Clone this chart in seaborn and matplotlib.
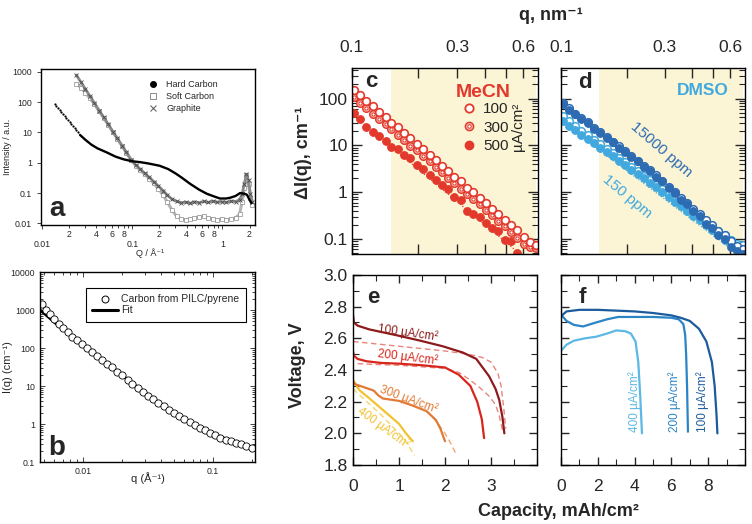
import numpy as np
import matplotlib
matplotlib.use("Agg")
import matplotlib.pyplot as plt
import matplotlib.ticker as mticker
from matplotlib.lines import Line2D
import seaborn as sns

# ---- a: scattering of carbons ----
hc_dot_q = [0.0138, 0.0144, 0.0150, 0.0156, 0.0163, 0.0170, 0.0177, 0.0185,
            0.0193, 0.0201, 0.0210, 0.0219, 0.0229, 0.0239, 0.0250]
hc_dot_i = [90, 77, 66, 57, 48, 41, 35, 30, 25.5, 22, 18.7, 16, 13.8, 11.8, 10.0]
hc_q = [0.0263, 0.030, 0.035, 0.041, 0.052, 0.065, 0.080, 0.100, 0.122, 0.150,
        0.200, 0.250, 0.300, 0.350, 0.440, 0.550, 0.670, 0.800, 0.940, 1.10,
        1.22, 1.40, 1.57, 1.75, 1.87, 2.00, 2.10]
hc_i = [8.3, 5.8, 4.0, 3.0, 2.2, 1.6, 1.3, 1.12, 1.05, 0.95, 0.80, 0.62, 0.45,
        0.33, 0.20, 0.13, 0.095, 0.078, 0.066, 0.066, 0.070, 0.080, 0.100,
        0.095, 0.088, 0.060, 0.046]
gs_q = [0.024, 0.027, 0.030, 0.034, 0.038, 0.043, 0.048, 0.054, 0.061, 0.068,
        0.077, 0.086, 0.097, 0.109, 0.122, 0.137, 0.154, 0.173, 0.195, 0.220,
        0.245, 0.275, 0.310, 0.350, 0.390, 0.440, 0.490, 0.550, 0.620, 0.700,
        0.780, 0.880, 0.990, 1.10, 1.25, 1.40, 1.55, 1.65, 1.75, 1.85, 1.95,
        2.05, 2.15]
graphite_i = [778, 452, 279, 157, 94, 53, 32, 18.7, 10.6, 6.5, 3.65, 2.2, 1.27,
              0.85, 0.62, 0.45, 0.33, 0.24, 0.17, 0.12, 0.085, 0.063, 0.053,
              0.048, 0.05, 0.046, 0.051, 0.048, 0.053, 0.049, 0.054, 0.05,
              0.052, 0.049, 0.054, 0.052, 0.06, 0.09, 0.2, 0.42, 0.26, 0.09, 0.05]
soft_i = [414, 300, 205, 135, 85, 50, 31, 18, 10.3, 6.3, 3.6, 2.15, 1.22, 0.8,
          0.57, 0.42, 0.30, 0.21, 0.14, 0.085, 0.05, 0.028, 0.017, 0.014, 0.013,
          0.014, 0.015, 0.016, 0.017, 0.015, 0.014, 0.013, 0.014, 0.013, 0.014,
          0.015, 0.02, 0.05, 0.15, 0.38, 0.2, 0.07, 0.04]

# ---- b: PILC/pyrene carbon + fit ----
b_q = [0.0048, 0.0052, 0.0056, 0.0060, 0.0065, 0.0070, 0.0076, 0.0083, 0.0090,
       0.0098, 0.0107, 0.0117, 0.0128, 0.0140, 0.0153, 0.0167, 0.0183, 0.0200,
       0.0220, 0.0240, 0.0263, 0.0288, 0.0316, 0.0347, 0.0380, 0.0417, 0.0457,
       0.0500, 0.0550, 0.0600, 0.0660, 0.0720, 0.0790, 0.0870, 0.0950, 0.104,
       0.114, 0.125, 0.137, 0.150, 0.165, 0.180, 0.198]
b_i = [1450, 1030, 770, 580, 430, 340, 262, 200, 160, 128, 102, 80, 62, 49, 39,
       31, 24, 19, 14.5, 11.5, 9.0, 7.1, 5.6, 4.5, 3.6, 2.95, 2.4, 2.0, 1.65,
       1.35, 1.12, 0.95, 0.8, 0.68, 0.58, 0.50, 0.44, 0.39, 0.35, 0.32, 0.29,
       0.27, 0.24]
b_fit_q = [0.00468, 0.0063, 0.0100, 0.0158, 0.0251, 0.0398, 0.0631, 0.100, 0.158, 0.209]
b_fit_i = [1000, 417, 126, 36, 10.5, 3.3, 1.2, 0.55, 0.30, 0.21]

# ---- c, d: delta I(q) ----
q_cd = [0.102, 0.109, 0.116, 0.124, 0.133, 0.142, 0.151, 0.162, 0.173, 0.184,
        0.197, 0.210, 0.225, 0.240, 0.256, 0.274, 0.292, 0.312, 0.333, 0.356,
        0.380, 0.406, 0.433, 0.463, 0.494, 0.528, 0.564, 0.602, 0.643, 0.687]
c_100 = [151, 118, 88, 69, 51, 41, 30, 24.5, 18, 14.5, 10.5, 8.4, 6.2, 4.9, 3.6,
         2.9, 2.15, 1.7, 1.25, 1.0, 0.74, 0.59, 0.43, 0.35, 0.25, 0.20, 0.155,
         0.11, 0.085, 0.074]
c_300 = [108, 82, 64, 48, 37.5, 28, 22, 16.5, 13.2, 9.8, 7.8, 5.8, 4.6, 3.4, 2.7,
         2.0, 1.57, 1.18, 0.93, 0.70, 0.55, 0.41, 0.32, 0.24, 0.19, 0.14, 0.105,
         0.078, 0.068, 0.064]
c_500 = [49, 36.6, 24.2, 19.8, 16.0, 12.7, 9.1, 8.3, 6.2, 5.3, 3.8, 3.2, 2.3,
         1.85, 1.40, 1.18, 0.79, 0.69, 0.40, 0.34, 0.29, 0.22, 0.17, 0.146,
         0.097, 0.09, 0.051]
c_fit_q = [0.1, 0.6]
c_fit_i = [47, 0.042]
d_15000 = [76, 58, 47, 36, 30, 22.5, 18.8, 14.2, 11.8, 9.0, 7.4, 5.6, 4.6, 3.5,
           2.9, 2.15, 1.7, 1.22, 0.96, 0.68, 0.55, 0.39, 0.31, 0.21, 0.175, 0.12,
           0.1, 0.068, 0.055, 0.048]
d_15000_open = [80, 62, 48, 39, 31, 24, 19.5, 15, 12, 9.6, 7.6, 6.0, 4.7, 3.7,
                2.95, 2.3, 1.75, 1.32, 1.0, 0.75, 0.58, 0.44, 0.34, 0.26, 0.20,
                0.15, 0.12, 0.09, 0.07, 0.06]
d_150 = [32.5, 26, 21, 17, 13.7, 11, 8.9, 7.2, 5.8, 4.7, 3.8, 3.05, 2.45, 1.98,
         1.6, 1.28, 1.0, 0.80, 0.63, 0.50, 0.40, 0.31, 0.25, 0.195, 0.155, 0.122,
         0.097, 0.077, 0.06, 0.055]
d_150_open = [42, 33, 26, 20.5, 16.5, 13, 10.5, 8.4, 6.8, 5.4, 4.4, 3.5, 2.8,
              2.25, 1.8, 1.45, 1.15, 0.92, 0.73, 0.58, 0.46, 0.37, 0.30, 0.24,
              0.19, 0.15, 0.12, 0.095, 0.08, 0.075]
d_fit_q = [0.1, 0.66]
d_fit_i = [33, 0.045]

# ---- e: MeCN discharge curves ----
e100_x = [0, 0, 0.02, 0.1, 0.36, 0.94, 1.45, 1.95, 2.39, 2.68, 2.96, 3.1, 3.18, 3.25, 3.29]
e100_v = [3.0, 2.75, 2.70, 2.68, 2.656, 2.62, 2.586, 2.55, 2.51, 2.47, 2.36, 2.28, 2.21, 2.1, 2.0]
e100d_x = [0, 0.5, 1.0, 1.5, 2.0, 2.5, 2.8, 3.0, 3.15, 3.22, 3.28, 3.32]
e100d_v = [2.58, 2.565, 2.55, 2.535, 2.52, 2.5, 2.48, 2.45, 2.38, 2.3, 2.15, 2.03]
e200_x = [0, 0.02, 0.1, 0.3, 0.6, 1.0, 1.5, 2.0, 2.3, 2.55, 2.7, 2.8, 2.85]
e200_v = [2.52, 2.49, 2.47, 2.455, 2.445, 2.44, 2.43, 2.416, 2.37, 2.30, 2.20, 2.09, 1.97]
e200d_x = [0.1, 0.5, 1.0, 1.5, 2.0, 2.3, 2.53, 2.75, 2.96, 3.1, 3.18, 3.25]
e200d_v = [2.44, 2.435, 2.43, 2.42, 2.41, 2.385, 2.34, 2.29, 2.235, 2.18, 2.11, 2.02]
e300_x = [0, 0.05, 0.2, 0.45, 0.55, 0.65, 1.0, 1.3, 1.6, 1.8, 1.9, 2.0]
e300_v = [2.33, 2.31, 2.295, 2.27, 2.24, 2.22, 2.205, 2.175, 2.14, 2.085, 2.03, 1.95]
e300d_x = [1.6, 1.8, 2.0, 2.12, 2.24]
e300d_v = [2.14, 2.08, 2.0, 1.94, 1.87]
e400_x = [0, 0.05, 0.15, 0.36, 0.6, 0.8, 1.0, 1.15, 1.3]
e400_v = [2.34, 2.31, 2.27, 2.22, 2.16, 2.11, 2.06, 2.0, 1.95]
e400d_x = [0, 0.3, 0.6, 0.9, 1.1, 1.34]
e400d_v = [2.28, 2.2, 2.12, 2.03, 1.97, 1.86]

# ---- f: DMSO discharge curves ----
f100_x = [0, 0.3, 1.0, 2.0, 3.0, 4.0, 5.0, 6.0, 6.5, 7.0, 7.5, 7.9, 8.2, 8.35, 8.45, 8.5]
f100_v = [2.74, 2.77, 2.78, 2.78, 2.775, 2.77, 2.76, 2.745, 2.73, 2.71, 2.66, 2.58, 2.45, 2.3, 2.12, 2.0]
f200_x = [0, 0.3, 0.7, 1.2, 1.9, 2.5, 3.1, 4.0, 5.0, 6.0, 6.4, 6.65, 6.75, 6.8, 6.85, 6.9]
f200_v = [2.75, 2.71, 2.685, 2.675, 2.70, 2.72, 2.735, 2.735, 2.735, 2.73, 2.72, 2.69, 2.62, 2.5, 2.3, 2.01]
f400_x = [0, 0, 0.3, 0.7, 1.3, 1.9, 2.5, 3.0, 3.5, 3.8, 4.05, 4.2, 4.3, 4.4]
f400_v = [3.0, 2.52, 2.56, 2.585, 2.6, 2.61, 2.63, 2.65, 2.645, 2.63, 2.58, 2.45, 2.25, 2.0]

RED = "#E2392C"
DARK = "#2D6CB3"
LIGHT = "#42A9DE"
SHADE = "#FCF5D5"

sns.set_style("ticks")
plt.rcParams["font.family"] = ["Liberation Sans", "DejaVu Sans"]
plt.rcParams["axes.linewidth"] = 1.0
plt.rcParams["axes.edgecolor"] = "black"

W, H = 752, 524
fig = plt.figure(figsize=(W / 100, H / 100), dpi=100)


def box(l, r, t, b):
    return [l / W, 1 - b / H, (r - l) / W, (b - t) / H]


def put(x, y, s, **kw):
    fig.text(x / W, 1 - y / H, s, **kw)


def line(ax, x, y, **kw):
    sns.lineplot(x=x, y=y, ax=ax, sort=False, estimator=None, legend=False, **kw)


def marks(ax, x, y, **kw):
    sns.lineplot(x=x, y=y, ax=ax, sort=False, estimator=None, legend=False,
                 ls="none", **kw)


def minor_lab(v, pos):
    d = int(round(v / 10 ** np.floor(np.log10(v) + 1e-9)))
    return str(d) if d in (2, 4, 6, 8) else ""


# panel a
ax = fig.add_axes(box(41, 255, 69, 225))
ax.set_xscale("log")
ax.set_yscale("log")
line(ax, gs_q, soft_i, color="#b5b5b5", lw=2.2)
marks(ax, gs_q, soft_i, marker="s", ms=2.6, mfc="white", mec="#8c8c8c", mew=0.5)
line(ax, gs_q, graphite_i, color="#8a8a8a", lw=2.0)
marks(ax, gs_q, graphite_i, marker="x", ms=2.6, mec="#4a4a4a", mew=0.6)
marks(ax, hc_dot_q, hc_dot_i, marker="o", ms=1.6, mfc="black", mec="black", mew=0)
line(ax, hc_q, hc_i, color="black", lw=1.7)
ax.set_xlim(0.0097, 2.3)
ax.set_ylim(0.0088, 1250)
ax.xaxis.set_major_locator(mticker.FixedLocator([0.01, 0.1, 1]))
ax.xaxis.set_major_formatter(mticker.FixedFormatter(["0.01", "0.1", "1"]))
ax.xaxis.set_minor_locator(mticker.LogLocator(base=10, subs=np.arange(2, 10), numticks=20))
ax.xaxis.set_minor_formatter(mticker.FuncFormatter(minor_lab))
ax.yaxis.set_major_locator(mticker.FixedLocator([0.01, 0.1, 1, 10, 100, 1000]))
ax.yaxis.set_major_formatter(mticker.FixedFormatter(["0.01", "0.1", "1", "10", "100", "1000"]))
ax.yaxis.set_minor_locator(mticker.NullLocator())
ax.tick_params(which="both", direction="out", labelsize=6.3, width=0.6)
ax.tick_params(which="major", length=3)
ax.tick_params(which="minor", length=2)
ax.tick_params(axis="x", which="major", pad=8)
ax.tick_params(axis="x", which="minor", pad=1.5)
ax.set_xlabel("")
ax.set_ylabel("")
hs = [Line2D([], [], ls="none", marker="o", ms=4, mfc="black", mec="black"),
      Line2D([], [], ls="none", marker="s", ms=4, mfc="white", mec="#8c8c8c", mew=0.7),
      Line2D([], [], ls="none", marker="x", ms=4, mec="#666666", mew=0.8)]
ax.legend(hs, ["Hard Carbon", "Soft Carbon", "Graphite"], loc="upper left",
          bbox_to_anchor=(0.5, 0.93), frameon=False, fontsize=6.5, handlelength=1.0,
          handletextpad=1.0, labelspacing=0.35, borderpad=0, borderaxespad=0)
ax.text(0.04, 0.06, "a", transform=ax.transAxes, fontsize=20, fontweight="bold",
        va="baseline")
put(8, 147, "Intensity / a.u.", rotation=90, ha="center", va="center", fontsize=6.5)
put(150, 253, "Q / Å⁻¹", ha="center", va="center", fontsize=6.5)

# panel b
ax = fig.add_axes(box(40, 255, 272, 462))
ax.set_xscale("log")
ax.set_yscale("log")
line(ax, b_fit_q, b_fit_i, color="black", lw=2.0)
marks(ax, b_q, b_i, marker="o", ms=5.2, mfc="white", mec="black", mew=0.6)
ax.set_xlim(0.00467, 0.21)
ax.set_ylim(0.1, 10000)
ax.xaxis.set_major_locator(mticker.FixedLocator([0.01, 0.1]))
ax.xaxis.set_major_formatter(mticker.FixedFormatter(["0.01", "0.1"]))
ax.xaxis.set_minor_locator(mticker.LogLocator(base=10, subs=np.arange(2, 10), numticks=20))
ax.xaxis.set_minor_formatter(mticker.NullFormatter())
ax.yaxis.set_major_locator(mticker.FixedLocator([0.1, 1, 10, 100, 1000, 10000]))
ax.yaxis.set_major_formatter(mticker.FixedFormatter(["0.1", "1", "10", "100", "1000", "10000"]))
ax.yaxis.set_minor_locator(mticker.LogLocator(base=10, subs=np.arange(2, 10), numticks=20))
ax.yaxis.set_minor_formatter(mticker.NullFormatter())
ax.tick_params(which="both", direction="in", top=True, right=True, labelsize=6.3, width=0.6)
ax.tick_params(which="major", length=3.5)
ax.tick_params(which="minor", length=2)
ax.set_xlabel("")
ax.set_ylabel("")
hb = [Line2D([], [], ls="none", marker="o", ms=5, mfc="white", mec="black", mew=0.7),
      Line2D([], [], color="black", lw=2.2)]
ax.legend(hb, ["Carbon from PILC/pyrene", "Fit"], loc="upper left",
          bbox_to_anchor=(0.214, 0.916), frameon=True, fancybox=False,
          edgecolor="black", framealpha=1, fontsize=7.5, handlelength=2.5,
          handletextpad=0.3, labelspacing=0.1, borderpad=0.6, borderaxespad=0)
ax.get_legend().get_frame().set_linewidth(0.8)
ax.text(0.037, 0.037, "b", transform=ax.transAxes, fontsize=20, fontweight="bold",
        va="baseline")
put(8, 367, "I(q) (cm⁻¹)", rotation=90, ha="center", va="center", fontsize=8)
put(148, 478, "q (Å⁻¹)", ha="center", va="center", fontsize=8)

# panels c and d
ax_c = fig.add_axes(box(352, 538, 68, 254))
ax_d = fig.add_axes(box(561, 745, 68, 254))
for ax in (ax_c, ax_d):
    ax.set_xscale("log")
    ax.set_yscale("log")
    ax.axvspan(0.15, 0.685, color=SHADE, lw=0, zorder=0)

line(ax_c, c_fit_q, c_fit_i, color=RED, lw=0.9, ls=(0, (1, 1.5)))
marks(ax_c, q_cd[:len(c_500)], c_500, marker="o", ms=5.5, mfc=RED, mec=RED, mew=0.8)
marks(ax_c, q_cd, c_300, marker="o", ms=5.5, mfc="#F3A79E", mec=RED, mew=1.0)
marks(ax_c, q_cd, c_300, marker="o", ms=2.2, mfc="white", mec=RED, mew=0.6)
marks(ax_c, q_cd, c_100, marker="o", ms=5.5, mfc="white", mec=RED, mew=1.2)

line(ax_d, d_fit_q, d_fit_i, color=LIGHT, lw=0.9, ls=(0, (1, 1.5)))
marks(ax_d, q_cd, d_150_open, marker="o", ms=5.5, mfc="white", mec=LIGHT, mew=1.1)
marks(ax_d, q_cd, d_150, marker="o", ms=5.5, mfc=LIGHT, mec=LIGHT, mew=0.8)
marks(ax_d, q_cd, d_15000_open, marker="o", ms=5.5, mfc="white", mec=DARK, mew=1.1)
marks(ax_d, q_cd, d_15000, marker="o", ms=5.5, mfc=DARK, mec=DARK, mew=0.8)

for ax in (ax_c, ax_d):
    ax.set_xlim(0.1, 0.70)
    ax.set_ylim(0.048, 450)
    ax.xaxis.set_major_locator(mticker.FixedLocator([0.1, 0.2, 0.3, 0.4, 0.5, 0.6]))
    ax.xaxis.set_major_formatter(mticker.FixedFormatter(["0.1", "", "0.3", "", "", "0.6"]))
    ax.xaxis.set_minor_locator(mticker.NullLocator())
    ax.yaxis.set_major_locator(mticker.FixedLocator([0.1, 1, 10, 100]))
    ax.yaxis.set_major_formatter(mticker.FixedFormatter(["0.1", "1", "10", "100"]))
    ax.yaxis.set_minor_locator(mticker.LogLocator(base=10, subs=np.arange(2, 10), numticks=20))
    ax.yaxis.set_minor_formatter(mticker.NullFormatter())
    ax.tick_params(which="both", direction="in", top=True, bottom=True, left=True,
                   right=True, labeltop=True, labelbottom=False, labelsize=12.5)
    ax.tick_params(which="major", length=7, width=1)
    ax.tick_params(which="minor", length=4, width=0.8)
    ax.tick_params(axis="x", pad=9)
    ax.tick_params(axis="y", pad=3)
    ax.set_xlabel("")
    ax.set_ylabel("")
ax_d.tick_params(labelleft=False)

h100 = Line2D([], [], ls="none", marker="o", ms=6, mfc="white", mec=RED, mew=1.3)
h300 = (Line2D([], [], ls="none", marker="o", ms=6, mfc="#F3A79E", mec=RED, mew=1.0),
        Line2D([], [], ls="none", marker="o", ms=2.4, mfc="white", mec=RED, mew=0.6))
h500 = Line2D([], [], ls="none", marker="o", ms=6, mfc=RED, mec=RED)
ax_c.legend([h100, h300, h500], ["100", "300", "500"], loc="upper left",
            bbox_to_anchor=((461 - 352) / 186, (254 - 102) / 186), frameon=False,
            fontsize=11, handlelength=1.0, handletextpad=0.45, labelspacing=0.3,
            borderpad=0, borderaxespad=0)

put(371, 87, "c", fontsize=16, fontweight="bold", ha="center", va="baseline")
put(585, 88, "d", fontsize=16, fontweight="bold", ha="center", va="baseline")
put(483, 97, "MeCN", fontsize=14, fontweight="bold", color=RED, ha="center", va="baseline")
put(518, 127, "µA/cm²", fontsize=11, rotation=90, ha="center", va="center")
put(703, 95, "DMSO", fontsize=12.5, fontweight="bold", color=LIGHT, ha="center", va="baseline")
put(661, 150, "15000 ppm", fontsize=11, rotation=-41, color=DARK, ha="center",
    va="center", rotation_mode="anchor")
put(627, 197, "150 ppm", fontsize=11, rotation=-40, color=LIGHT, ha="center",
    va="center", rotation_mode="anchor")
put(551, 15, "q, nm⁻¹", fontsize=13, fontweight="bold", ha="center", va="center")
put(303, 153, "ΔI(q), cm⁻¹", fontsize=13, fontweight="bold", rotation=90,
    ha="center", va="center")

# panels e and f
ax_e = fig.add_axes(box(353, 537, 275, 465))
ax_f = fig.add_axes(box(561, 745, 275, 465))

line(ax_e, e100d_x, e100d_v, color="#E9857C", lw=1.0, ls=(0, (4, 2.5)))
line(ax_e, e200d_x, e200d_v, color="#E9857C", lw=1.0, ls=(0, (4, 2.5)))
line(ax_e, e300d_x, e300d_v, color="#EFA774", lw=1.0, ls=(0, (4, 2.5)))
line(ax_e, e400d_x, e400d_v, color="#F6D46A", lw=1.0, ls=(0, (4, 2.5)))
line(ax_e, e400_x, e400_v, color="#F2C230", lw=1.6)
line(ax_e, e300_x, e300_v, color="#E27A35", lw=1.6)
line(ax_e, e200_x, e200_v, color="#D9261C", lw=1.6)
line(ax_e, e100_x, e100_v, color="#8E1B1B", lw=1.6)

line(ax_f, f400_x, f400_v, color="#5CB8E4", lw=1.6)
line(ax_f, f200_x, f200_v, color="#2B84C6", lw=1.6)
line(ax_f, f100_x, f100_v, color="#1C5C9C", lw=1.6)

for ax in (ax_e, ax_f):
    ax.set_ylim(1.8, 3.0)
    ax.yaxis.set_major_locator(mticker.MultipleLocator(0.2))
    ax.yaxis.set_minor_locator(mticker.MultipleLocator(0.1))
    ax.yaxis.set_major_formatter(mticker.FormatStrFormatter("%.1f"))
    ax.tick_params(which="both", direction="in", top=True, right=True, labelsize=12.5)
    ax.tick_params(which="major", length=6, width=1)
    ax.tick_params(which="minor", length=4, width=0.8)
    ax.tick_params(axis="x", pad=10)
    ax.tick_params(axis="y", pad=4)
    ax.set_xlabel("")
    ax.set_ylabel("")
ax_e.set_xlim(0, 4)
ax_e.xaxis.set_major_locator(mticker.FixedLocator([0, 1, 2, 3]))
ax_e.xaxis.set_minor_locator(mticker.MultipleLocator(0.5))
ax_f.set_xlim(0, 10)
ax_f.xaxis.set_major_locator(mticker.FixedLocator([0, 2, 4, 6, 8]))
ax_f.xaxis.set_minor_locator(mticker.MultipleLocator(1))
ax_f.tick_params(labelleft=False)

put(373, 303, "e", fontsize=16, fontweight="bold", ha="center", va="baseline")
put(582, 303, "f", fontsize=16, fontweight="bold", ha="center", va="baseline")
put(408, 333, "100 µA/cm²", fontsize=8.5, color="#8E1B1B", rotation=-8,
    ha="center", va="center", rotation_mode="anchor")
put(408, 357, "200 µA/cm²", fontsize=8.5, color="#D9261C", rotation=-7,
    ha="center", va="center", rotation_mode="anchor")
put(409, 399, "300 µA/cm²", fontsize=8.5, color="#E27A35", rotation=-20,
    ha="center", va="center", rotation_mode="anchor")
put(383, 428, "400 µA/cm²", fontsize=8.5, color="#F2C230", rotation=-36,
    ha="center", va="center", rotation_mode="anchor")
put(635, 402, "400 µA/cm²", fontsize=8.5, color="#5CB8E4", rotation=90, ha="center", va="center")
put(675, 402, "200 µA/cm²", fontsize=8.5, color="#2B84C6", rotation=90, ha="center", va="center")
put(703, 402, "100 µA/cm²", fontsize=8.5, color="#1C5C9C", rotation=90, ha="center", va="center")
put(297, 365, "Voltage, V", fontsize=13, fontweight="bold", rotation=90,
    ha="center", va="center")
put(558, 512, "Capacity, mAh/cm²", fontsize=13, fontweight="bold", ha="center",
    va="center")

fig.savefig("out.png", dpi=100)
